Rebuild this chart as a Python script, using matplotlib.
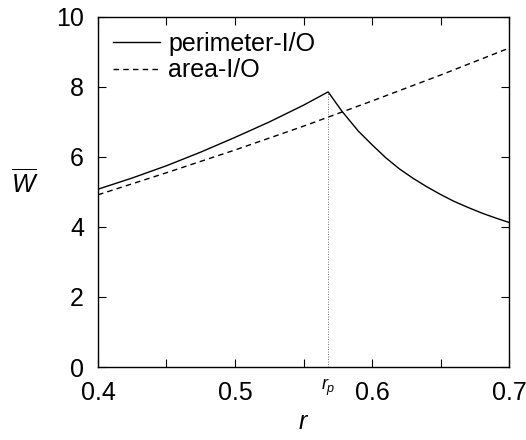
import matplotlib
matplotlib.use("Agg")
import matplotlib.pyplot as plt
from matplotlib.ticker import MultipleLocator

plt.rcParams['font.family'] = ['Liberation Sans', 'DejaVu Sans']
plt.rcParams['mathtext.fontset'] = 'custom'
plt.rcParams['mathtext.rm'] = 'Liberation Sans'
plt.rcParams['mathtext.it'] = 'Liberation Sans:italic'

# data
r_perim = [0.40, 0.425, 0.45, 0.475, 0.50, 0.525, 0.55, 0.568,
           0.578, 0.59, 0.60, 0.61, 0.62, 0.63, 0.64, 0.65, 0.66, 0.67, 0.68, 0.69, 0.70]
w_perim = [5.08, 5.40, 5.75, 6.14, 6.56, 7.00, 7.48, 7.86,
           7.31, 6.74, 6.35, 5.98, 5.66, 5.39, 5.15, 4.93, 4.73, 4.56, 4.40, 4.26, 4.13]
r_area = [0.40, 0.45, 0.50, 0.55, 0.60, 0.65, 0.70]
w_area = [4.92, 5.55, 6.20, 6.88, 7.60, 8.34, 9.11]
r_p = 0.568
w_peak = 7.86
x_ticks = [0.4, 0.5, 0.6, 0.7]
y_ticks = [0, 2, 4, 6, 8, 10]

fig = plt.figure(figsize=(5.26, 4.40), dpi=100)
ax = fig.add_axes([0.1863, 0.1659, 0.9677 - 0.1863, 0.9614 - 0.1659])

ax.plot(r_perim, w_perim, color='black', lw=1.0, label='perimeter-I/O')
ax.plot(r_area, w_area, color='black', lw=1.0, ls=(0, (4, 3)), label='area-I/O')
ax.plot([r_p, r_p], [0, w_peak], color='#444444', lw=0.6, ls=(0, (1, 2)))

ax.set_xlim(0.4, 0.7)
ax.set_ylim(0, 10)
ax.set_xticks(x_ticks)
ax.set_xticklabels([f"{v:g}" for v in x_ticks])
ax.xaxis.set_minor_locator(MultipleLocator(0.05))
ax.set_yticks(y_ticks)
ax.tick_params(which='both', direction='in', top=True, right=True, length=6, width=0.8)
ax.tick_params(which='major', labelsize=18, pad=10)
for s in ax.spines.values():
    s.set_linewidth(1.0)

ax.text(r_p, -0.28, r'$r_p$', ha='center', va='top', fontsize=13)
ax.set_xlabel(r'$r$', fontsize=18, labelpad=4)
ax.set_ylabel(r'$\overline{W}$', fontsize=18, rotation=0, va='center', ha='center')
ax.yaxis.set_label_coords(-0.178, 0.526)

leg = ax.legend(loc='upper left', frameon=False, fontsize=18, handlelength=1.9,
                handletextpad=0.3, labelspacing=0.1, borderaxespad=0.3,
                borderpad=0.3)

fig.savefig('out.png', dpi=100)
